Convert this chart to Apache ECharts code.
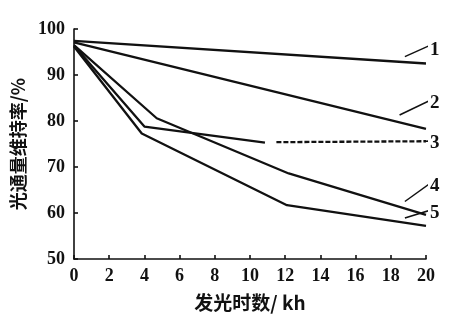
<!DOCTYPE html>
<html><head><meta charset="utf-8">
<script src="https://cdn.jsdelivr.net/npm/echarts@6/dist/echarts.min.js"></script>
<style>html,body{margin:0;padding:0;background:#fff}#c{width:467px;height:327px}</style>
</head><body><div id="c"></div>
<script>
// Data (hours in kh, luminous flux maintenance in %)
var curve1 = [[0, 97.4], [20, 92.5]];
var curve2 = [[0, 97.1], [20, 78.3]];
var curve3 = [[0, 96.4], [4, 78.8], [10.85, 75.3]];
var curve3Dashed = [[11.5, 75.4], [20, 75.6]];
var curve4 = [[0, 96.5], [4.7, 80.6], [12.2, 68.6], [20, 59.6]];
var curve5 = [[0, 96.2], [3.85, 77.3], [12.1, 61.7], [20, 57.2]];
var xTicks = [0, 2, 4, 6, 8, 10, 12, 14, 16, 18, 20];
var yTicks = [50, 60, 70, 80, 90, 100];
// Leader lines for curve labels (data units)
var labelNames = ['1', '2', '3', '4', '5'];
var leader1 = [[18.8, 94.0], [20.9, 97.6]];
var leader2 = [[18.5, 81.3], [20.9, 85.7]];
var leader3 = [[20, 75.6], [20.9, 75.8]];
var leader4 = [[18.8, 62.5], [20.9, 68.3]];
var leader5 = [[18.8, 58.9], [20.9, 61.4]];
var labelOffsets = [[0, 4], [0, 2], [0, 2], [0, 1], [0, 2]];

var chart = echarts.init(document.getElementById('c'));
var serif = '"Liberation Serif", "DejaVu Serif", serif';
var cjk = '"Noto Sans CJK SC", sans-serif';

function curve(data, dashed) {
  return {
    type: 'line', data: data, symbol: 'none', clip: false, silent: true,
    lineStyle: { color: '#111', width: 2.3, type: dashed ? [5, 2] : 'solid' }
  };
}
function leader(data, name, off, dashed) {
  return {
    type: 'line', name: name, data: data, symbol: 'none', clip: false, silent: true,
    lineStyle: { color: '#111', width: 1.5, type: dashed ? [5, 2] : 'solid' },
    endLabel: { show: true, formatter: name, distance: 2, offset: off,
      fontFamily: serif, fontWeight: 'bold', fontSize: 19, color: '#111' }
  };
}

chart.setOption({
  animation: false,
  backgroundColor: '#fff',
  grid: { left: 74, right: 41, top: 29, bottom: 68 },
  xAxis: {
    type: 'value', min: xTicks[0], max: xTicks[xTicks.length - 1], interval: 2,
    name: '发光时数/ kh', nameLocation: 'middle', nameGap: 34,
    nameTextStyle: { fontFamily: cjk, fontWeight: 'bold', fontSize: 19, color: '#111' },
    axisLine: { lineStyle: { color: '#111', width: 1.6 } },
    axisTick: { inside: true, length: 4, lineStyle: { color: '#111', width: 1.6 } },
    axisLabel: { margin: 8, fontFamily: serif, fontWeight: 'bold', fontSize: 18, color: '#111' },
    splitLine: { show: false }
  },
  yAxis: {
    type: 'value', min: yTicks[0], max: yTicks[yTicks.length - 1], interval: 10,
    name: '光通量维持率/%', nameLocation: 'middle', nameGap: 44, nameRotate: 90,
    nameTextStyle: { fontFamily: cjk, fontWeight: 'bold', fontSize: 18, color: '#111' },
    axisLine: { show: true, lineStyle: { color: '#111', width: 1.6 } },
    axisTick: { show: true, inside: true, length: 4, lineStyle: { color: '#111', width: 1.6 } },
    axisLabel: { margin: 9, fontFamily: serif, fontWeight: 'bold', fontSize: 18, color: '#111' },
    splitLine: { show: false }
  },
  series: [
    curve(curve1), curve(curve2), curve(curve3), curve(curve3Dashed, true),
    curve(curve4), curve(curve5),
    leader(leader1, labelNames[0], labelOffsets[0]),
    leader(leader2, labelNames[1], labelOffsets[1]),
    leader(leader3, labelNames[2], labelOffsets[2], true),
    leader(leader4, labelNames[3], labelOffsets[3]),
    leader(leader5, labelNames[4], labelOffsets[4])
  ]
});
</script></body></html>
